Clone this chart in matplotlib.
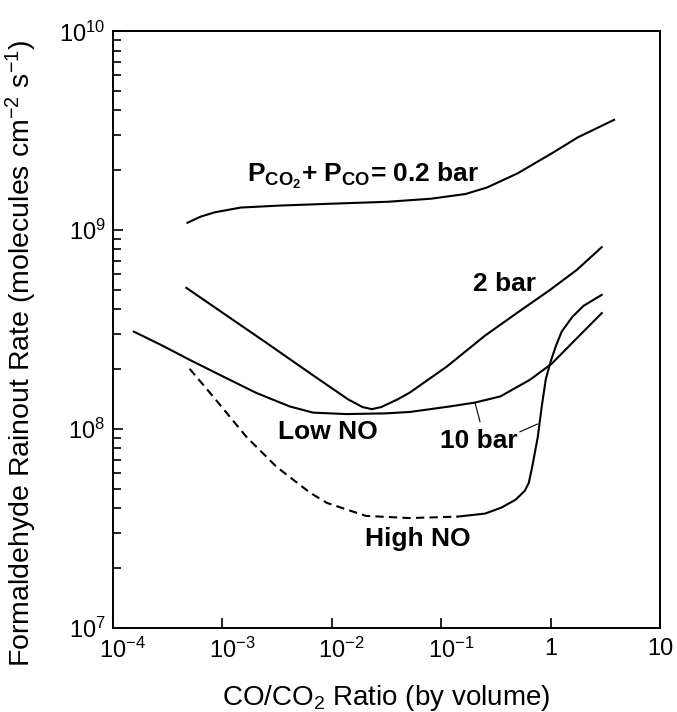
import numpy as np
import matplotlib
matplotlib.use("Agg")
import matplotlib.pyplot as plt
from matplotlib.ticker import FixedLocator, NullLocator, LogLocator
from matplotlib.transforms import ScaledTranslation

plt.rcParams['font.family'] = ['Liberation Sans', 'DejaVu Sans']
plt.rcParams['mathtext.default'] = 'regular'

# P(CO2)+P(CO) = 0.2 bar
x_02 = [4.79e-4, 6.31e-4, 8.49e-4, 1.47e-3, 3.33e-3, 1.02e-2, 3.24e-2, 8.04e-2,
        0.166, 0.262, 0.497, 1.03, 1.77, 3.80]
y_02 = [1.09e9, 1.17e9, 1.23e9, 1.30e9, 1.33e9, 1.36e9, 1.39e9, 1.44e9,
        1.52e9, 1.64e9, 1.93e9, 2.44e9, 2.93e9, 3.59e9]

# 2 bar
x_2 = [4.68e-4, 1.0e-3, 2.51e-3, 6.31e-3, 1.41e-2, 1.91e-2, 2.32e-2, 2.82e-2,
       3.98e-2, 5.19e-2, 0.112, 0.251, 0.490, 0.986, 1.73, 2.93]
y_2 = [5.13e8, 3.85e8, 2.72e8, 1.91e8, 1.41e8, 1.29e8, 1.26e8, 1.29e8,
       1.41e8, 1.53e8, 2.06e8, 2.95e8, 3.83e8, 5.01e8, 6.31e8, 8.22e8]

# 10 bar, low NO
x_low = [1.55e-4, 2.82e-4, 5.01e-4, 1.01e-3, 2.04e-3, 4.12e-3, 6.73e-3, 1.36e-2,
         3.16e-2, 5.19e-2, 0.120, 0.204, 0.347, 0.646, 1.02, 1.73, 2.93]
y_low = [3.09e8, 2.63e8, 2.23e8, 1.84e8, 1.52e8, 1.30e8, 1.21e8, 1.19e8,
         1.20e8, 1.22e8, 1.30e8, 1.36e8, 1.46e8, 1.77e8, 2.13e8, 2.86e8, 3.83e8]

# 10 bar, high NO (dashed part, then solid part)
x_high_d = [5.01e-4, 8.20e-4, 1.65e-3, 3.11e-3, 6.31e-3, 9.06e-3, 2.05e-2, 5.11e-2, 0.141]
y_high_d = [2.01e8, 1.46e8, 9.16e7, 6.47e7, 4.79e7, 4.25e7, 3.66e7, 3.57e7, 3.63e7]
x_high_s = [0.141, 0.251, 0.355, 0.479, 0.581, 0.631, 0.678, 0.762, 0.832,
            0.902, 1.0, 1.12, 1.26, 1.58, 2.0, 2.93]
y_high_s = [3.63e7, 3.76e7, 4.03e7, 4.42e7, 4.90e7, 5.37e7, 6.46e7, 9.12e7, 1.32e8,
            1.78e8, 2.19e8, 2.63e8, 3.09e8, 3.67e8, 4.17e8, 4.73e8]

# leader lines of the "10 bar" label
lead1_x = [0.204, 0.226]
lead1_y = [1.35e8, 1.09e8]
lead2_x = [0.525, 0.757]
lead2_y = [9.70e7, 1.06e8]

xticks = [1e-4, 1e-3, 1e-2, 1e-1, 1, 10]
xtick_labels = ['10$^{-4}$', '10$^{-3}$', '10$^{-2}$', '10$^{-1}$', '1', '10']

fig = plt.figure(figsize=(6.77, 7.12), dpi=100)
ax = fig.add_axes([0.167, 0.118, 0.808, 0.838])

lw = 1.5
ax.plot(x_02, y_02, color='black', lw=lw)
ax.plot(x_2, y_2, color='black', lw=lw)
ax.plot(x_low, y_low, color='black', lw=lw)
ax.plot(x_high_d, y_high_d, color='black', lw=lw, linestyle=(0, (4, 2.5)))
ax.plot(x_high_s, y_high_s, color='black', lw=lw)
ax.plot(lead1_x, lead1_y, color='black', lw=0.8)
ax.plot(lead2_x, lead2_y, color='black', lw=0.8)

ax.set_xscale('log')
ax.set_yscale('log')
ax.set_xlim(1e-4, 10)
ax.set_ylim(1e7, 1e10)

ax.xaxis.set_major_locator(FixedLocator(xticks))
ax.set_xticklabels(xtick_labels)
ax.xaxis.set_minor_locator(NullLocator())
ax.yaxis.set_major_locator(LogLocator(base=10, numticks=10))
ax.yaxis.set_minor_locator(LogLocator(base=10, subs=np.arange(2, 10), numticks=20))

ax.tick_params(which='both', direction='in', top=False, right=False, width=1.2,
               labelsize=17)
ax.tick_params(which='major', length=7)
ax.tick_params(which='minor', length=6)
ax.tick_params(axis='x', pad=7)
ax.tick_params(axis='y', pad=5.5)
for s in ax.spines.values():
    s.set_linewidth(1.4)

# shift labels with exponents so that the "10" sits on the tick
for lab, s in zip(ax.get_xticklabels(), xtick_labels):
    if '^' in s:
        lab.set_transform(lab.get_transform() + ScaledTranslation(7 / 72, 0, fig.dpi_scale_trans))

ax.set_xlabel('CO/CO$_2$ Ratio (by volume)', fontsize=20)
ax.set_ylabel('Formaldehyde Rainout Rate (molecules cm$^{-2}$ s$^{-1}$)', fontsize=20.5)
ax.xaxis.set_label_coords(0.5, -0.092)
ax.yaxis.set_label_coords(-0.135, 0.46)

tkw = dict(fontsize=19, fontweight='bold', va='baseline', ha='left')
ax.text(1.66e-3, 1.76e9, 'P$_{CO_2}$+ P$_{CO}$= 0.2 bar', **tkw)
ax.text(0.194, 4.92e8, '2 bar', **tkw)
ax.text(3.24e-3, 8.89e7, 'Low NO', **tkw)
ax.text(9.75e-2, 8.02e7, '10 bar', **tkw)
ax.text(2.0e-2, 2.58e7, 'High NO', **tkw)

fig.savefig('out.png', dpi=100)
